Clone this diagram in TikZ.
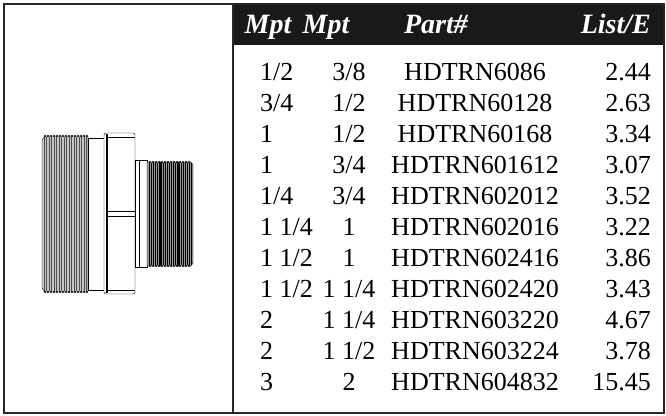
\documentclass[tikz,border=0pt]{standalone}
\usepackage{fontspec}
\setmainfont{Liberation Serif}
\usetikzlibrary{positioning}
\tikzset{every picture/.style={x=1pt, y=-1pt},
  cell/.style={inner sep=0pt, font=\fontsize{26}{26}\selectfont},
  headcell/.style={inner sep=0pt, text=white, anchor=base,
    font=\fontsize{28}{28}\selectfont\bfseries\itshape},
  frame/.style={line width=2pt, draw=black!85}}
% one row of the table: index, size 1, size 2, part number, price
\newcommand\partrow[5]{
  \node[cell, anchor=base west] (a#1) at (260,{80+31*#1}) {#2};
  \node[cell, anchor=base] (b#1) at (349,{80+31*#1}) {#3};
  \node[cell, anchor=base] (p#1) at (475,{80+31*#1}) {#4};
  \node[cell, anchor=base east] (l#1) at (651,{80+31*#1}) {#5};
}
\newcommand\threadtooth[2]{\fill (#1,#2) circle (1.1);}

\begin{document}
\begin{tikzpicture}
      \useasboundingbox (0,0) rectangle (666,415);

      % Header band
      \fill[black!90] (233,3) rectangle (665,45);
      \node[headcell] (h1) at (268,33) {Mpt};
      \node[headcell] (h2) at (326,33) {Mpt};
      \node[headcell] (h3) at (436,33) {Part\#};
      \node[headcell, anchor=base east] (h4) at (651,33) {List/E};

      % Frame and divider
      \draw[frame] (3.5,4) rectangle (664,413);
      \draw[line width=1.5pt, black!85] (233,4) -- (233,413);

      % Table rows
      \partrow{0}{1/2}{3/8}{HDTRN6086}{2.44}
      \partrow{1}{3/4}{1/2}{HDTRN60128}{2.63}
      \partrow{2}{1}{1/2}{HDTRN60168}{3.34}
      \partrow{3}{1}{3/4}{HDTRN601612}{3.07}
      \partrow{4}{1/4}{3/4}{HDTRN602012}{3.52}
      \partrow{5}{1 1/4}{1}{HDTRN602016}{3.22}
      \partrow{6}{1 1/2}{1}{HDTRN602416}{3.86}
      \partrow{7}{1 1/2}{1 1/4}{HDTRN602420}{3.43}
      \partrow{8}{2}{1 1/4}{HDTRN603220}{4.67}
      \partrow{9}{2}{1 1/2}{HDTRN603224}{3.78}
      \partrow{10}{3}{2}{HDTRN604832}{15.45}

      % Fitting: large thread
      \draw[fill=gray!45] (45,136) -- (88,136) -- (88,292) -- (45,292)
        -- (42,288) -- (42,140) -- cycle;
      \foreach \x in {44,46.5,...,87}{
          \draw[line width=0.5pt, black!70] (\x,137) -- (\x,291);
        }
      \foreach \x in {45,48,...,87}{
          \threadtooth{\x}{136}
          \threadtooth{\x}{292}
        }

      % Fitting: plain band and flange
      \draw[fill=white] (88,138) rectangle (104,290);
      \draw[fill=white, rounded corners=2] (104,133) rectangle (135,294);
      \draw[line width=2pt] (107,134) -- (107,293);
      \draw (108,137) -- (135,137);
      \draw (108,290) -- (135,290);
      \draw (108,211) -- (135,211);
      \draw (108,216) -- (135,216);

      % Fitting: neck
      \draw[fill=white] (135,160) rectangle (147,267);
      \draw (139,160) -- (139,267);

      % Fitting: small thread
      \draw[fill=gray!80] (147,162) -- (191,162) -- (193,165) -- (193,263)
        -- (191,266) -- (147,266) -- cycle;
      \foreach \x in {149,151,...,191}{
          \draw[line width=0.4pt, black] (\x,163) -- (\x,265);
        }
      \foreach \x in {150,153,...,191}{
          \threadtooth{\x}{162}
          \threadtooth{\x}{266}
        }
      \draw[line width=1.2pt] (160,162) -- (160,266);
      \draw[line width=1.2pt] (178,162) -- (178,266);
    \end{tikzpicture}
\end{document}
